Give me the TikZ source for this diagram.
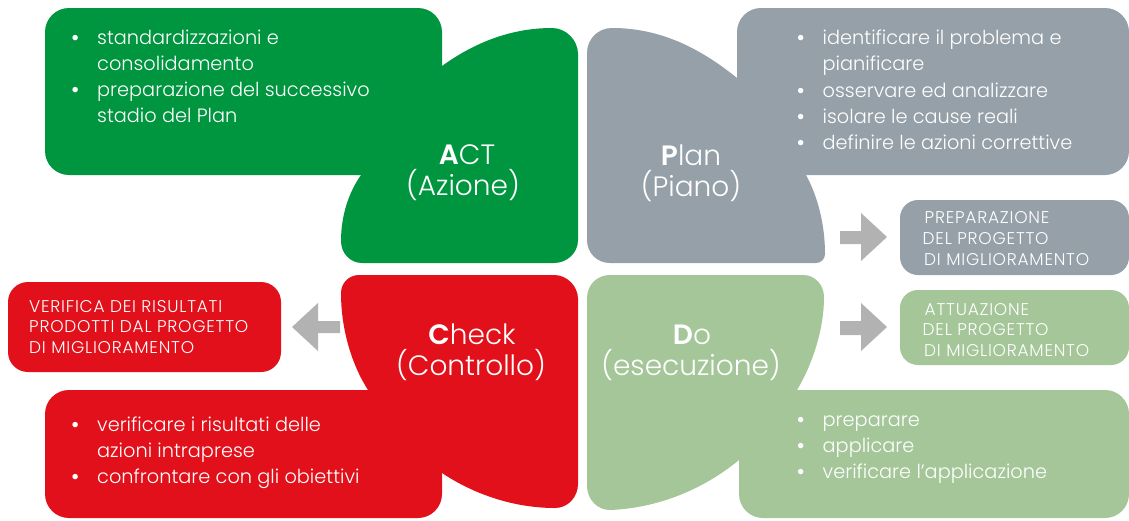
\documentclass[tikz,border=0pt]{standalone}
\usepackage{fontspec}
\setmainfont{Poppins}[UprightFont={* Light}, BoldFont={* SemiBold}]
\definecolor{actc}{RGB}{0,150,64}
\definecolor{planc}{RGB}{149,160,168}
\definecolor{checkc}{RGB}{226,16,26}
\definecolor{doc}{RGB}{164,198,153}
\definecolor{arrc}{RGB}{179,178,179}
\newcommand\bitem{\makebox[26.5pt][l]{\bfseries •}}
\newcommand\bind{\hspace*{26.5pt}}
\tikzset{
  body/.style={anchor=base west, inner sep=0pt, text=white, font=\fontsize{19.3}{26.3}\selectfont},
  ttl/.style={anchor=base, inner sep=0pt, text=white, font=\fontsize{28}{33}\selectfont},
  side/.style={anchor=base west, inner sep=0pt, text=white, font=\fontsize{17}{20.8}\selectfont\addfontfeatures{LetterSpace=4.5}},
}
\begin{document}
\begin{tikzpicture}[x=1pt,y=-1pt]
\useasboundingbox (0,0) rectangle (1129,520);
\fill[white] (0,0) rectangle (1129,520);

% ---------- ACT (green) ----------
\fill[actc, rounded corners=24] (45,8) rectangle (442,175);
\fill[actc] (442,66) .. controls (478,40) and (515,28) .. (552,28)
  .. controls (566,28) and (578,40) .. (578,54) -- (578,240)
  .. controls (578,253) and (567,263) .. (554,263) -- (362,263)
  .. controls (350,263) and (341,253) .. (341,241)
  .. controls (341,215) and (349,192) .. (361,175) -- (410,175) -- (410,66) -- cycle;

% ---------- PLAN (grey) ----------
\fill[planc, rounded corners=24] (737,8) rectangle (1129,175);
\fill[planc] (737,78) .. controls (700,48) and (660,28) .. (612,28)
  .. controls (598,28) and (587,39) .. (587,53) -- (587,240)
  .. controls (587,253) and (597,263) .. (610,263) -- (816,263)
  .. controls (821,263) and (825,259) .. (825,254)
  .. controls (825,225) and (818,197) .. (806,175) -- (770,175) -- (770,78) -- cycle;

% ---------- CHECK (red) ----------
\fill[checkc, rounded corners=24] (45,390) rectangle (442,518);
\fill[checkc] (368,390) .. controls (352,365) and (341,330) .. (341,293)
  .. controls (341,283) and (349,275) .. (359,275) -- (554,275)
  .. controls (567,275) and (578,286) .. (578,299) -- (578,484)
  .. controls (578,497) and (568,508) .. (555,508)
  .. controls (515,508) and (475,495) .. (442,473) -- (410,473) -- (410,390) -- cycle;

% ---------- DO (light green) ----------
\fill[doc, rounded corners=24] (739,390) rectangle (1129,518);
\fill[doc] (797,390) .. controls (812,365) and (824,330) .. (824,297)
  .. controls (824,285) and (815,275) .. (803,275) -- (610,275)
  .. controls (597,275) and (587,285) .. (587,298) -- (587,486)
  .. controls (587,499) and (597,510) .. (610,510)
  .. controls (660,508) and (705,488) .. (739,460) -- (770,460) -- (770,390) -- cycle;

% ---------- side boxes ----------
\fill[checkc, rounded corners=20] (8,282) rectangle (281,372);
\fill[planc, rounded corners=18] (900,200) rectangle (1129,275);
\fill[doc, rounded corners=18] (900,290) rectangle (1129,365);

% ---------- block arrows ----------
\fill[arrc] (292,327) -- (318,303) -- (318,321) -- (340,321) -- (340,333) -- (318,333) -- (318,351) -- cycle;
\fill[arrc] (840,231) -- (861,231) -- (861,213) -- (887,237) -- (861,261) -- (861,244) -- (840,244) -- cycle;
\fill[arrc] (840,321) -- (861,321) -- (861,303) -- (887,327) -- (861,351) -- (861,335) -- (840,335) -- cycle;

% ---------- titles ----------
\node[ttl] (actA) at (467,164) {\textbf{A}CT};
\node[ttl] (actB) at (463,195) {(Azione)};
\node[ttl] (planA) at (691,165) {\textbf{P}lan};
\node[ttl] (planB) at (691,196) {(Piano)};
\node[ttl] (chkA) at (472,344) {\textbf{C}heck};
\node[ttl] (chkB) at (471,375) {(Controllo)};
\node[ttl] (doA) at (692,344) {\textbf{D}o};
\node[ttl] (doB) at (691,375) {(esecuzione)};

% ---------- bullet lists ----------
\node[body] (actL) at (70.5,44) {\begin{tabular}[t]{@{}l@{}}
\bitem standardizzazioni e\\
\bind consolidamento\\
\bitem preparazione del successivo\\
\bind stadio del Plan
\end{tabular}};
\node[body] (planL) at (796,44.5) {\begin{tabular}[t]{@{}l@{}}
\bitem identificare il problema e\\
\bind pianificare\\
\bitem osservare ed analizzare\\
\bitem isolare le cause reali\\
\bitem definire le azioni correttive
\end{tabular}};
\node[body] (chkL) at (70.5,431) {\begin{tabular}[t]{@{}l@{}}
\bitem verificare i risultati delle\\
\bind azioni intraprese\\
\bitem confrontare con gli obiettivi
\end{tabular}};
\node[body] (doL) at (796,426) {\begin{tabular}[t]{@{}l@{}}
\bitem preparare\\
\bitem applicare\\
\bitem verificare l'applicazione
\end{tabular}};

% ---------- side texts ----------
\node[side] (chkS) at (29,312) {\begin{tabular}[t]{@{}l@{}}
VERIFICA DEI RISULTATI\\
PRODOTTI DAL PROGETTO\\
DI MIGLIORAMENTO
\end{tabular}};
\node[side] (planS) at (922.5,223.5) {\begin{tabular}[t]{@{}l@{}}
\hspace*{2pt}PREPARAZIONE\\
DEL PROGETTO\\
\hspace*{1.5pt}DI MIGLIORAMENTO
\end{tabular}};
\node[side] (doS) at (922.5,315) {\begin{tabular}[t]{@{}l@{}}
\hspace*{2pt}ATTUAZIONE\\
DEL PROGETTO\\
\hspace*{1.5pt}DI MIGLIORAMENTO
\end{tabular}};
\end{tikzpicture}
\end{document}
